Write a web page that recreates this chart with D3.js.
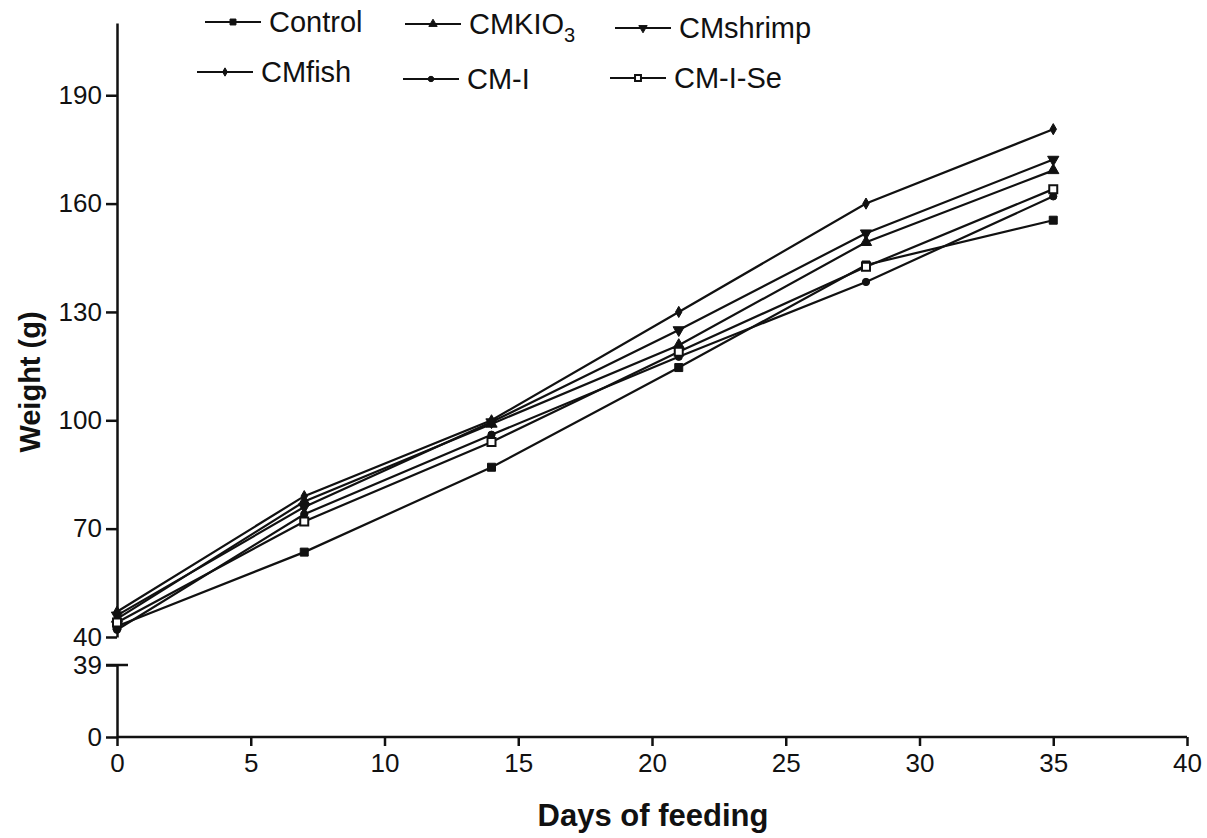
<!DOCTYPE html>
<html>
<head>
<meta charset="utf-8">
<script src="https://cdn.jsdelivr.net/npm/d3@7"></script>
<style>
  body { margin: 0; background: #fff; }
  text { font-family: "Liberation Sans", Arial, sans-serif; fill: #111; }
</style>
</head>
<body>
<div id="graph"></div>
<script>
const width = 1207;
const height = 838;

// data
const days = [0, 7, 14, 21, 28, 35];
const seriesNames = ["Control", "CMKIO3", "CMshrimp", "CMfish", "CM-I", "CM-I-Se"];
const control = [43, 63.5, 87, 114.6, 143, 155.4];
const cmKIO3 = [45, 77.5, 99, 120.8, 149.3, 169.2];
const cmShrimp = [46, 76, 99.5, 125, 151.8, 172.2];
const cmFish = [47, 79, 100, 130, 160, 180.6];
const cmI = [42, 74, 96, 117.6, 138.3, 162];
const cmISe = [44, 72, 94, 119, 142.5, 164];
const upperTicks = [40, 70, 100, 130, 160, 190];
const lowerTicks = [0, 39];
const xTicks = [0, 5, 10, 15, 20, 25, 30, 35, 40];

const seriesValues = [control, cmKIO3, cmShrimp, cmFish, cmI, cmISe];
const markerTypes = ["square", "triangle", "triangleDown", "diamond", "circle", "openSquare"];

const svg = d3.select("#graph")
  .append("svg")
  .attr("width", width)
  .attr("height", height);

const x = d3.scaleLinear()
  .domain([0, 40])
  .range([117, 1187]);

// broken y axis: two segments
const yUp = d3.scaleLinear()
  .domain([40, 210])
  .range([637, 23]);
const yLow = d3.scaleLinear()
  .domain([0, 39])
  .range([737, 665]);

const xAxis = d3.axisBottom(x).tickValues(xTicks).tickSize(9).tickPadding(8);
const yAxisUp = d3.axisLeft(yUp).tickValues(upperTicks).tickSize(11).tickPadding(4).tickSizeOuter(0);
const yAxisLow = d3.axisLeft(yLow).tickValues(lowerTicks).tickSize(11).tickPadding(4).tickSizeOuter(0);

function styleAxis(g) {
  g.select(".domain").attr("stroke", "#111").attr("stroke-width", 2.5);
  g.selectAll(".tick line").attr("stroke", "#111").attr("stroke-width", 2.5);
  g.selectAll(".tick text")
    .attr("font-size", 26)
    .attr("font-family", "Liberation Sans, Arial, sans-serif")
    .attr("fill", "#111");
}

svg.append("g")
  .attr("transform", `translate(0, ${yLow(0)})`)
  .call(xAxis)
  .call(styleAxis)
  .call(g => g.select(".domain").attr("d", `M${x(0)},0H${x(40)}`));

svg.append("g")
  .attr("transform", `translate(${x(0)}, 0)`)
  .call(yAxisUp)
  .call(styleAxis);

svg.append("g")
  .attr("transform", `translate(${x(0)}, 0)`)
  .call(yAxisLow)
  .call(styleAxis);

// small cap on the 39 end of the lower segment
svg.append("line")
  .attr("x1", x(0) - 11).attr("x2", x(0) + 11)
  .attr("y1", yLow(39)).attr("y2", yLow(39))
  .attr("stroke", "#111").attr("stroke-width", 2.5);

const markerSize = {
  square: 64, triangle: 55, triangleDown: 55, diamond: 36, circle: 42, openSquare: 64
};
const symbolType = {
  square: d3.symbolSquare, triangle: d3.symbolTriangle, triangleDown: d3.symbolTriangle,
  diamond: d3.symbolDiamond, circle: d3.symbolCircle, openSquare: d3.symbolSquare
};

function drawMarker(g, type, cx, cy, scale) {
  const rot = type === "triangleDown" ? " rotate(180)" : "";
  g.append("path")
    .attr("d", d3.symbol().type(symbolType[type]).size(markerSize[type] * scale)())
    .attr("transform", `translate(${cx}, ${cy})${rot}`)
    .attr("fill", type === "openSquare" ? "#fff" : "#111")
    .attr("stroke", "#111")
    .attr("stroke-width", type === "openSquare" ? 2 : 1);
}

const line = d3.line()
  .x((d, i) => x(days[i]))
  .y(d => yUp(d));

const plot = svg.append("g");
seriesValues.forEach(vals => {
  plot.append("path")
    .datum(vals)
    .attr("fill", "none")
    .attr("stroke", "#111")
    .attr("stroke-width", 2.2)
    .attr("d", line);
});
seriesValues.forEach((vals, s) => {
  vals.forEach((v, i) => drawMarker(plot, markerTypes[s], x(days[i]), yUp(v), 1));
});

// legend, 3 columns x 2 rows
const legendPos = [
  { x: 205, y: 22 }, { x: 405, y: 24 }, { x: 615, y: 28 },
  { x: 197, y: 72 }, { x: 403, y: 79 }, { x: 610, y: 78 }
];
const legend = svg.append("g");
seriesNames.forEach((name, s) => {
  const p = legendPos[s];
  legend.append("line")
    .attr("x1", p.x).attr("x2", p.x + 56)
    .attr("y1", p.y).attr("y2", p.y)
    .attr("stroke", "#111").attr("stroke-width", 2);
  drawMarker(legend, markerTypes[s], p.x + 28, p.y, 0.55);
  const t = legend.append("text")
    .attr("x", p.x + 64)
    .attr("y", p.y + 10)
    .attr("font-size", 29);
  if (name === "CMKIO3") {
    t.append("tspan").text("CMKIO");
    t.append("tspan").attr("font-size", 20).attr("dy", 8).text("3");
  } else {
    t.text(name);
  }
});

// axis titles
svg.append("text")
  .attr("x", 653)
  .attr("y", 826)
  .attr("text-anchor", "middle")
  .attr("font-size", 31)
  .attr("font-weight", "bold")
  .text("Days of feeding");

svg.append("text")
  .attr("transform", "translate(40, 382) rotate(-90)")
  .attr("text-anchor", "middle")
  .attr("font-size", 29)
  .attr("font-weight", "bold")
  .text("Weight (g)");
</script>
</body>
</html>
